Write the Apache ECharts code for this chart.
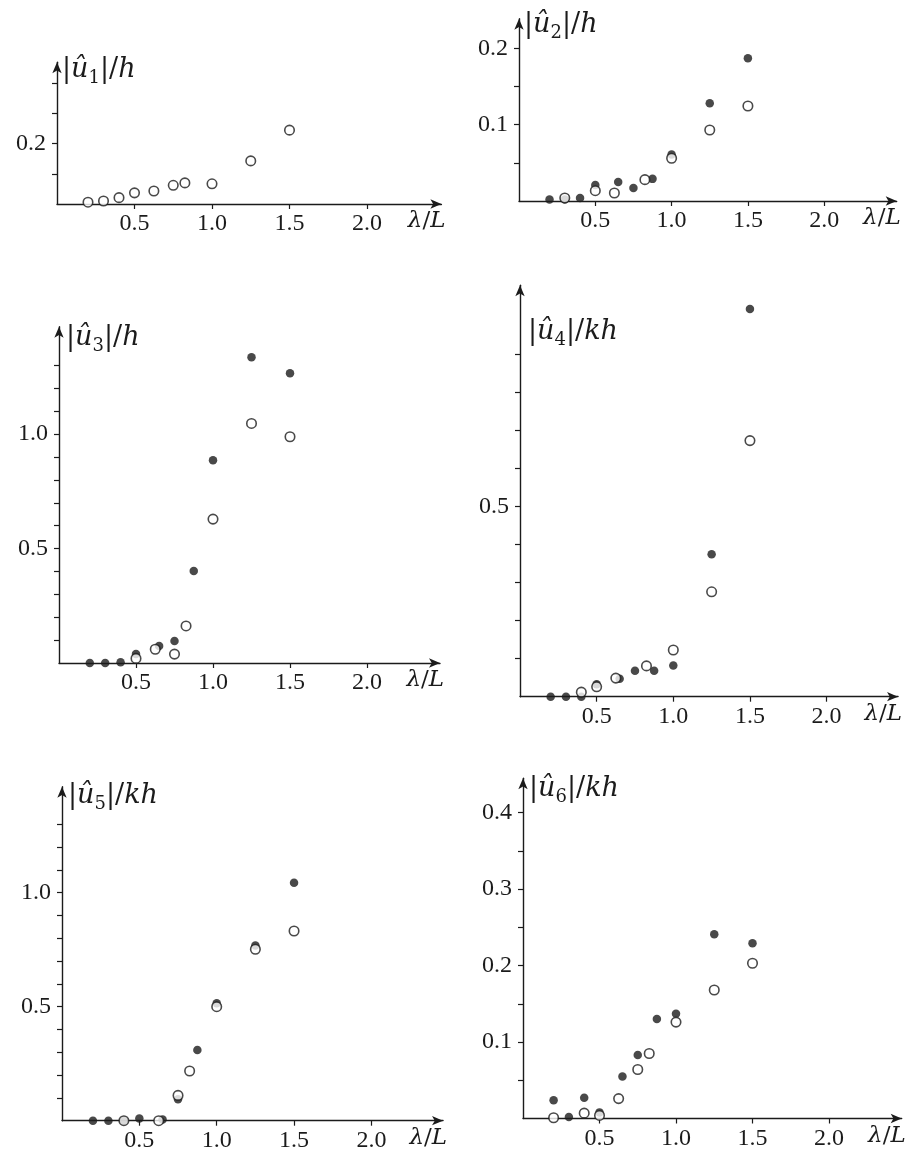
<!DOCTYPE html>
<html>
<head>
<meta charset="utf-8">
<title>Response amplitudes vs wavelength</title>
<script src="https://cdn.jsdelivr.net/npm/echarts@6/dist/echarts.min.js"></script>
<style>
  html, body { margin: 0; padding: 0; background: #ffffff; }
  #chart { width: 907px; height: 1158px; }
</style>
</head>
<body>
<div id="chart"></div>
<script>
// ---- data: wavelength ratio λ/L and amplitude for each mode ----
// open circles and filled circles for each of the six modes

const xTicks = [0.5, 1.0, 1.5, 2.0];

// mode 1 : |û1|/h
const m1OpenX   = [0.2, 0.3, 0.4, 0.5, 0.625, 0.75, 0.825, 1.0, 1.25, 1.5];
const m1OpenY   = [0.006, 0.01, 0.021, 0.037, 0.043, 0.062, 0.07, 0.067, 0.143, 0.245];
const m1FilledX = [];
const m1FilledY = [];
const m1YTicks  = [0.1, 0.2, 0.3, 0.4];
const m1YLabels = [0.2];

// mode 2 : |û2|/h
const m2FilledX = [0.2, 0.3, 0.4, 0.5, 0.65, 0.75, 0.875, 1.0, 1.25, 1.5];
const m2FilledY = [0.002, 0.002, 0.004, 0.021, 0.025, 0.017, 0.029, 0.061, 0.128, 0.187];
const m2OpenX   = [0.3, 0.5, 0.625, 0.825, 1.0, 1.25, 1.5];
const m2OpenY   = [0.004, 0.0135, 0.0105, 0.028, 0.056, 0.093, 0.1245];
const m2YTicks  = [0.05, 0.1, 0.15, 0.2];
const m2YLabels = [0.1, 0.2];

// mode 3 : |û3|/h
const m3FilledX = [0.2, 0.3, 0.4, 0.5, 0.65, 0.75, 0.875, 1.0, 1.25, 1.5];
const m3FilledY = [0, 0, 0.003, 0.039, 0.074, 0.096, 0.402, 0.886, 1.336, 1.266];
const m3OpenX   = [0.5, 0.625, 0.75, 0.825, 1.0, 1.25, 1.5];
const m3OpenY   = [0.02, 0.06, 0.039, 0.162, 0.629, 1.047, 0.989];
const m3YTicks  = [0.1, 0.2, 0.3, 0.4, 0.5, 0.6, 0.7, 0.8, 0.9, 1.0, 1.1, 1.2, 1.3];
const m3YLabels = [0.5, 1.0];

// mode 4 : |û4|/kh
const m4FilledX = [0.2, 0.3, 0.4, 0.5, 0.65, 0.75, 0.875, 1.0, 1.25, 1.5];
const m4FilledY = [0, 0, 0, 0.033, 0.047, 0.068, 0.068, 0.082, 0.375, 1.02];
const m4OpenX   = [0.4, 0.5, 0.625, 0.825, 1.0, 1.25, 1.5];
const m4OpenY   = [0.012, 0.026, 0.049, 0.081, 0.123, 0.276, 0.674];
const m4YTicks  = [0.1, 0.2, 0.3, 0.4, 0.5, 0.6, 0.7, 0.8, 0.9];
const m4YLabels = [0.5];

// mode 5 : |û5|/kh
const m5FilledX = [0.2, 0.3, 0.4, 0.5, 0.65, 0.75, 0.875, 1.0, 1.25, 1.5];
const m5FilledY = [0, 0, 0, 0.01, 0.005, 0.094, 0.31, 0.515, 0.768, 1.044];
const m5OpenX   = [0.4, 0.625, 0.75, 0.825, 1.0, 1.25, 1.5];
const m5OpenY   = [0, 0, 0.111, 0.218, 0.5, 0.752, 0.832];
const m5YTicks  = [0.1, 0.2, 0.3, 0.4, 0.5, 0.6, 0.7, 0.8, 0.9, 1.0, 1.1, 1.2, 1.3];
const m5YLabels = [0.5, 1.0];

// mode 6 : |û6|/kh
const m6FilledX = [0.2, 0.3, 0.4, 0.5, 0.65, 0.75, 0.875, 1.0, 1.25, 1.5];
const m6FilledY = [0.024, 0.002, 0.027, 0.008, 0.055, 0.083, 0.13, 0.137, 0.241, 0.229];
const m6OpenX   = [0.2, 0.4, 0.5, 0.625, 0.75, 0.825, 1.0, 1.25, 1.5];
const m6OpenY   = [0.001, 0.007, 0.004, 0.026, 0.064, 0.085, 0.126, 0.168, 0.203];
const m6YTicks  = [0.05, 0.1, 0.15, 0.2, 0.25, 0.3, 0.35, 0.4];
const m6YLabels = [0.1, 0.2, 0.3, 0.4];

const modes = [
  { sub: '1', den: 'h',  openX: m1OpenX, openY: m1OpenY, filledX: m1FilledX, filledY: m1FilledY, yTicks: m1YTicks, yLabels: m1YLabels },
  { sub: '2', den: 'h',  openX: m2OpenX, openY: m2OpenY, filledX: m2FilledX, filledY: m2FilledY, yTicks: m2YTicks, yLabels: m2YLabels },
  { sub: '3', den: 'h',  openX: m3OpenX, openY: m3OpenY, filledX: m3FilledX, filledY: m3FilledY, yTicks: m3YTicks, yLabels: m3YLabels },
  { sub: '4', den: 'kh', openX: m4OpenX, openY: m4OpenY, filledX: m4FilledX, filledY: m4FilledY, yTicks: m4YTicks, yLabels: m4YLabels },
  { sub: '5', den: 'kh', openX: m5OpenX, openY: m5OpenY, filledX: m5FilledX, filledY: m5FilledY, yTicks: m5YTicks, yLabels: m5YLabels },
  { sub: '6', den: 'kh', openX: m6OpenX, openY: m6OpenY, filledX: m6FilledX, filledY: m6FilledY, yTicks: m6YTicks, yLabels: m6YLabels }
];

// ---- panel geometry: axis origin (px), px per unit, axis extents, title anchor ----
const panels = [
  { x0: 57,  y0: 204,    xs: 155,   ys: 301.5, xMax: 2.48,  yMax: 0.47,  tx: 62,  ty: 70 },
  { x0: 519, y0: 201,    xs: 152.6, ys: 763,   xMax: 2.475, yMax: 0.239, tx: 524, ty: 25 },
  { x0: 59,  y0: 663,    xs: 154,   ys: 228.8, xMax: 2.474, yMax: 1.47,  tx: 66,  ty: 338 },
  { x0: 520, y0: 696.7,  xs: 153.3, ys: 380,   xMax: 2.466, yMax: 1.083, tx: 528, ty: 332 },
  { x0: 62,  y0: 1120.7, xs: 154.7, ys: 228,   xMax: 2.463, yMax: 1.465, tx: 68,  ty: 796 },
  { x0: 523, y0: 1118.5, xs: 153,   ys: 765,   xMax: 2.475, yMax: 0.4447, tx: 529, ty: 789 }
];

const INK = '#1b1b1b';
const FONT = '"Liberation Serif", "Times New Roman", serif';
const MATH = '"DejaVu Serif", serif';
const FS = 24;

const zip = (xs, ys) => xs.map((x, i) => [x, ys[i]]);
const fmt = v => Number(v).toFixed(1);

const grid = [], xAxis = [], yAxis = [], series = [], title = [];

const richText = {
  n: { fontFamily: MATH, fontSize: 27, fontWeight: 'normal', color: INK, lineHeight: 34 },
  i: { fontFamily: MATH, fontSize: 27, fontWeight: 'normal', fontStyle: 'italic', color: INK, lineHeight: 34 },
  s: { fontFamily: MATH, fontSize: 18, fontWeight: 'normal', color: INK, lineHeight: 26, verticalAlign: 'bottom' }
};

panels.forEach((p, k) => {
  const m = modes[k];
  const w = p.xMax * p.xs;
  const h = p.yMax * p.ys;
  grid.push({ left: p.x0, top: p.y0 - h, width: w, height: h, containLabel: false });

  xAxis.push({
    type: 'value', gridIndex: k, min: 0, max: p.xMax,
    splitLine: { show: false },
    axisLine: { show: true, onZero: false, symbol: ['none', 'arrow'], symbolSize: [7, 11],
      lineStyle: { color: INK, width: 1.4 } },
    axisTick: { show: true, length: 5, customValues: xTicks, lineStyle: { color: INK, width: 1.2 } },
    axisLabel: { show: true, customValues: xTicks, formatter: fmt, margin: 8,
      fontFamily: FONT, fontSize: FS, color: INK },
    name: '{i|λ}{n|/}{i|L}',
    nameLocation: 'end', nameGap: 4,
    nameTextStyle: {
      align: 'right', verticalAlign: 'top', padding: [6, 0, 0, 0],
      rich: {
        i: { fontFamily: MATH, fontSize: 23, fontStyle: 'italic', color: INK },
        n: { fontFamily: MATH, fontSize: 23, color: INK }
      }
    }
  });

  yAxis.push({
    type: 'value', gridIndex: k, min: 0, max: p.yMax,
    splitLine: { show: false },
    axisLine: { show: true, onZero: false, symbol: ['none', 'arrow'], symbolSize: [7, 11],
      lineStyle: { color: INK, width: 1.4 } },
    axisTick: { show: true, length: 5, customValues: m.yTicks, lineStyle: { color: INK, width: 1.2 } },
    axisLabel: { show: true, customValues: m.yLabels, formatter: fmt, margin: 11,
      fontFamily: FONT, fontSize: FS, color: INK }
  });

  title.push({
    left: p.tx, top: p.ty - 17, padding: 0,
    text: '{n||}{i|û}{s|' + m.sub + '}{n||/}{i|' + m.den + '}',
    textStyle: { fontWeight: 'normal', rich: richText }
  });

  if (m.filledX.length) {
    series.push({
      type: 'scatter', xAxisIndex: k, yAxisIndex: k, clip: false,
      symbol: 'circle', symbolSize: 8.5,
      itemStyle: { color: INK },
      data: zip(m.filledX, m.filledY), z: 3
    });
  }
  series.push({
    type: 'scatter', xAxisIndex: k, yAxisIndex: k, clip: false,
    symbol: 'circle', symbolSize: 9.5,
    itemStyle: { color: '#ffffff', borderColor: INK, borderWidth: 1.6 },
    data: zip(m.openX, m.openY), z: 4
  });
});

const chart = echarts.init(document.getElementById('chart'), null, { renderer: 'canvas' });
chart.setOption({
  backgroundColor: '#ffffff',
  animation: false,
  title, grid, xAxis, yAxis, series
});
</script>
</body>
</html>
